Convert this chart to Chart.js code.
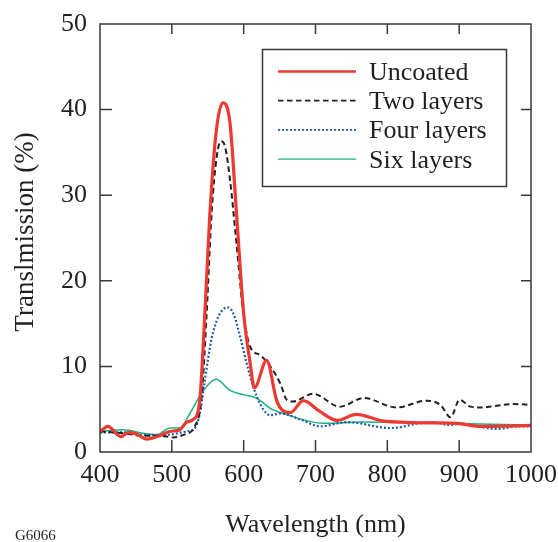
<!DOCTYPE html>
<html>
<head>
<meta charset="utf-8">
<script src="https://cdn.jsdelivr.net/npm/chart.js@4/dist/chart.umd.min.js"></script>
<style>
html,body{margin:0;padding:0;background:#fff;}
#wrap{width:558px;height:542px;}
</style>
</head>
<body>
<div id="wrap"><canvas id="c" width="558" height="542"></canvas></div>
<script>
// ---- data ----
const xTicks = [400, 500, 600, 700, 800, 900, 1000];
const yTicks = [0, 10, 20, 30, 40, 50];

const uncoatedWl  = [400, 411, 429, 440, 451, 465, 483, 497, 511, 521, 530, 539, 546, 553, 562, 571, 581, 590, 600, 609, 615, 632, 646, 655, 665, 683, 705, 730, 757, 795, 860, 897, 930, 1000];
const uncoatedVal = [2.4, 3.0, 1.8, 2.3, 2.1, 1.5, 1.9, 2.4, 2.6, 3.5, 3.8, 6.1, 16.2, 27.9, 37.6, 40.8, 38.4, 27.9, 16.2, 10.4, 7.5, 10.7, 6.0, 4.8, 4.6, 6.0, 4.8, 3.7, 4.4, 3.6, 3.4, 3.35, 3.0, 3.1];

const twoWl  = [400, 432, 460, 484, 502, 516, 532, 541.5, 548.5, 555.4, 562.5, 568.5, 574, 581, 590.4, 599.6, 609, 623, 637, 651, 660, 668.5, 696.5, 734, 767, 813, 855, 874, 888, 900.6, 915.5, 929, 975.6, 1000];
const twoVal = [2.4, 2.2, 1.9, 1.9, 1.7, 2.0, 3.0, 6.5, 16.2, 27.9, 34.5, 36.3, 35.7, 31.8, 24.0, 16.2, 12.3, 11.3, 10.0, 8.0, 6.1, 5.9, 6.8, 5.3, 6.3, 5.2, 6.0, 5.5, 4.05, 6.1, 5.3, 5.2, 5.6, 5.5];

const fourWl  = [400, 430, 460, 490, 520, 532, 539, 546, 555, 564.7, 577.6, 585.6, 595, 604, 613.4, 625, 637, 651, 679, 707, 744, 804, 860, 888, 900, 952, 985, 1000];
const fourVal = [2.3, 2.3, 2.0, 2.0, 2.4, 2.8, 4.5, 8.4, 13.1, 15.8, 16.9, 16.2, 13.5, 10.4, 7.6, 5.3, 4.3, 4.5, 3.8, 3.0, 3.5, 2.8, 3.5, 3.15, 3.3, 2.7, 3.0, 3.0];

const sixWl  = [400, 432, 460, 479, 497.5, 511, 525, 544, 561.6, 581, 599.6, 618, 637, 655.5, 711, 767, 883, 1000];
const sixVal = [2.4, 2.6, 2.2, 2.0, 2.8, 2.8, 4.5, 7.2, 8.5, 7.2, 6.7, 6.3, 5.1, 4.5, 3.35, 3.5, 3.35, 3.15];

const seriesNames = ["Uncoated", "Two layers", "Four layers", "Six layers"];

// ---- build datasets ----
const zip = (xs, ys) => xs.map((x, i) => ({x: x, y: ys[i]}));
const SERIF = "'Liberation Serif', 'DejaVu Serif', serif";
const TXT = '#231f20';

const datasets = [
  {label: seriesNames[0], data: zip(uncoatedWl, uncoatedVal), borderColor: '#ec3a32', borderWidth: 3.2, borderDash: []},
  {label: seriesNames[1], data: zip(twoWl, twoVal), borderColor: '#231f20', borderWidth: 2, borderDash: [5.5, 3.5]},
  {label: seriesNames[2], data: zip(fourWl, fourVal), borderColor: '#1a5cb0', borderWidth: 2.2, borderDash: [2, 2]},
  {label: seriesNames[3], data: zip(sixWl, sixVal), borderColor: '#1bb27a', borderWidth: 1.5, borderDash: []}
].map(d => Object.assign(d, {pointRadius: 0, fill: false, cubicInterpolationMode: 'monotone'}));

// ---- frame, inward ticks, titles, legend ----
const decor = {
  id: 'decor',
  afterDraw(chart) {
    const ctx = chart.ctx, a = chart.chartArea;
    const xs = chart.scales.x, ys = chart.scales.y;
    ctx.save();
    ctx.strokeStyle = '#3a3a3a';
    ctx.lineWidth = 1.5;
    ctx.strokeRect(a.left, a.top, a.right - a.left, a.bottom - a.top);
    ctx.beginPath();
    xTicks.forEach(v => {
      const px = xs.getPixelForValue(v);
      if (v > xTicks[0] && v < xTicks[xTicks.length - 1]) {
        ctx.moveTo(px, a.bottom); ctx.lineTo(px, a.bottom - 12);
        ctx.moveTo(px, a.top); ctx.lineTo(px, a.top + 10);
      }
    });
    yTicks.forEach(v => {
      const py = ys.getPixelForValue(v);
      if (v > yTicks[0] && v < yTicks[yTicks.length - 1]) {
        ctx.moveTo(a.left, py); ctx.lineTo(a.left + 12, py);
        ctx.moveTo(a.right, py); ctx.lineTo(a.right - 10, py);
      }
    });
    ctx.stroke();

    // axis titles
    ctx.fillStyle = TXT;
    ctx.font = '26px ' + SERIF;
    ctx.textAlign = 'center';
    ctx.textBaseline = 'alphabetic';
    ctx.fillText('Wavelength (nm)', (a.left + a.right) / 2, 532);
    ctx.save();
    ctx.translate(33, 232);
    ctx.rotate(-Math.PI / 2);
    ctx.font = '27px ' + SERIF;
    ctx.fillText('Translmission (%)', 0, 0);
    ctx.restore();
    ctx.font = '15px ' + SERIF;
    ctx.textAlign = 'left';
    ctx.fillText('G6066', 15, 540);

    // legend
    ctx.lineWidth = 1.5;
    ctx.strokeStyle = '#3a3a3a';
    ctx.strokeRect(262.5, 49.5, 244, 137);
    ctx.font = '26px ' + SERIF;
    chart.data.datasets.forEach((d, i) => {
      const base = 80 + i * 29.2;
      const ly = base - 8.5;
      ctx.save();
      ctx.strokeStyle = d.borderColor;
      ctx.lineWidth = d.borderWidth * 0.85;
      ctx.setLineDash(d.borderDash);
      ctx.beginPath();
      ctx.moveTo(278, ly); ctx.lineTo(356, ly);
      ctx.stroke();
      ctx.restore();
      ctx.fillStyle = TXT;
      ctx.fillText(d.label, 369, base);
    });
    ctx.restore();
  }
};

new Chart(document.getElementById('c'), {
  type: 'line',
  data: {datasets: datasets},
  options: {
    responsive: false,
    animation: false,
    devicePixelRatio: 1,
    layout: {padding: {left: 0, right: 27, top: 24, bottom: 0}},
    plugins: {legend: {display: false}, tooltip: {enabled: false}},
    scales: {
      x: {
        type: 'linear', min: 400, max: 1000,
        afterBuildTicks: s => { s.ticks = xTicks.map(v => ({value: v})); },
        ticks: {font: {family: SERIF, size: 26}, color: TXT, padding: 8, maxRotation: 0, autoSkip: false, callback: v => String(v)},
        grid: {display: false, drawTicks: false},
        border: {display: false},
        afterFit: s => { s.height = 90; s.paddingLeft = 0; s.paddingRight = 0; }
      },
      y: {
        type: 'linear', min: 0, max: 50,
        afterBuildTicks: s => { s.ticks = yTicks.map(v => ({value: v})); },
        ticks: {font: {family: SERIF, size: 26}, color: TXT, padding: 13, autoSkip: false, callback: v => String(v)},
        grid: {display: false, drawTicks: false},
        border: {display: false},
        afterFit: s => { s.width = 100; s.paddingTop = 0; s.paddingBottom = 0; }
      }
    }
  },
  plugins: [decor]
});
</script>
</body>
</html>
